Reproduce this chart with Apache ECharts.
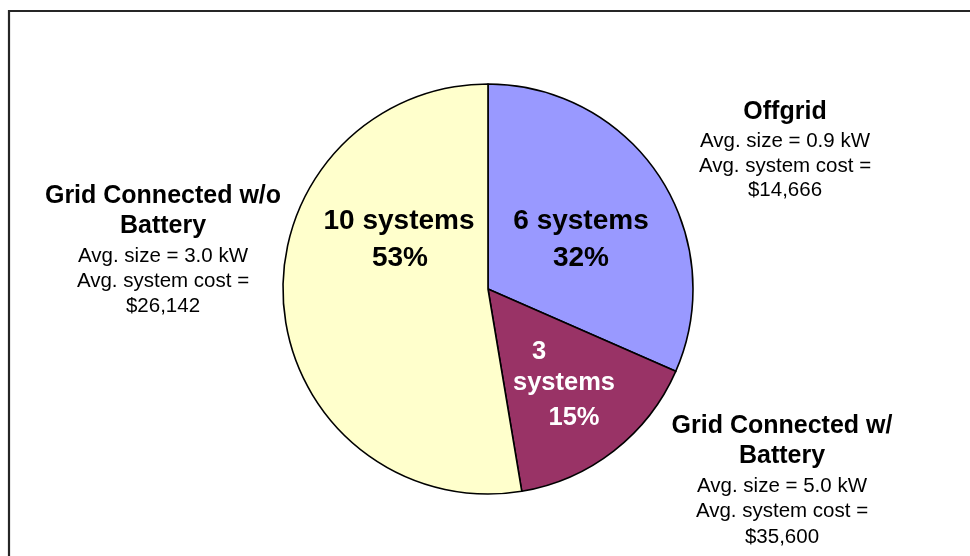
<!DOCTYPE html>
<html>
<head>
<meta charset="utf-8">
<script src="https://cdn.jsdelivr.net/npm/echarts@6/dist/echarts.min.js"></script>
<style>
  html, body { margin: 0; padding: 0; background: #fff; }
  #chart { width: 970px; height: 556px; }
</style>
</head>
<body>
<div id="chart"></div>
<script>
// ---- data ----
const categories = ['Offgrid', 'Grid Connected w/ Battery', 'Grid Connected w/o Battery'];
const titleLines = [['Offgrid'], ['Grid Connected w/', 'Battery'], ['Grid Connected w/o', 'Battery']];
const systemCounts = [6, 3, 10];
const percentLabels = ['32%', '15%', '53%'];
const avgSizes = ['0.9 kW', '5.0 kW', '3.0 kW'];
const avgCosts = ['$14,666', '$35,600', '$26,142'];
const sliceColors = ['#9999FF', '#993366', '#FFFFCC'];

// ---- layout ----
const FONT = '"Liberation Sans", Arial, sans-serif';
function line(text, cx, baseline, fs, bold, color) {
  return {
    type: 'text',
    x: cx,
    y: baseline - 0.35 * fs + 1.5,
    silent: true,
    z: 100,
    style: {
      text: text,
      fill: color || '#000',
      font: (bold ? 'bold ' : '') + fs + 'px ' + FONT,
      textAlign: 'center',
      textVerticalAlign: 'middle'
    }
  };
}

const blockLayout = [
  { cx: 785, titles: [119], details: [147, 172, 196] },
  { cx: 782, titles: [433, 463], details: [492, 517, 543] },
  { cx: 163, titles: [203, 233], details: [262, 287, 312] }
];

const graphics = [];
graphics.push({
  type: 'rect', silent: true, z: 0,
  shape: { x: 9, y: 11, width: 1000, height: 600 },
  style: { fill: 'none', stroke: '#262626', lineWidth: 2.2 }
});

categories.forEach((c, i) => {
  const L = blockLayout[i];
  titleLines[i].forEach((t, k) => graphics.push(line(t, L.cx, L.titles[k], 25, true)));
  const det = ['Avg. size = ' + avgSizes[i], 'Avg. system cost =', avgCosts[i]];
  det.forEach((t, k) => graphics.push(line(t, L.cx, L.details[k], 20.5, false)));
});

graphics.push(line(systemCounts[0] + ' systems', 581, 230, 28, true));
graphics.push(line(percentLabels[0], 581, 267, 28, true));
graphics.push(line(systemCounts[2] + ' systems', 399, 230, 28, true));
graphics.push(line(percentLabels[2], 400, 267, 28, true));
graphics.push(line(String(systemCounts[1]), 539, 359, 25.5, true, '#fff'));
graphics.push(line('systems', 564, 390, 25.5, true, '#fff'));
graphics.push(line(percentLabels[1], 574, 425, 25.5, true, '#fff'));

const chart = echarts.init(document.getElementById('chart'), null, { renderer: 'canvas' });
chart.setOption({
  animation: false,
  backgroundColor: '#fff',
  graphic: graphics,
  series: [{
    type: 'pie',
    center: [488, 289],
    radius: 205,
    startAngle: 90,
    clockwise: true,
    avoidLabelOverlap: false,
    label: { show: false },
    labelLine: { show: false },
    emphasis: { disabled: true },
    itemStyle: { borderColor: '#000', borderWidth: 1.6 },
    data: categories.map((c, i) => ({
      name: c,
      value: systemCounts[i],
      itemStyle: { color: sliceColors[i] }
    }))
  }]
});
</script>
</body>
</html>
